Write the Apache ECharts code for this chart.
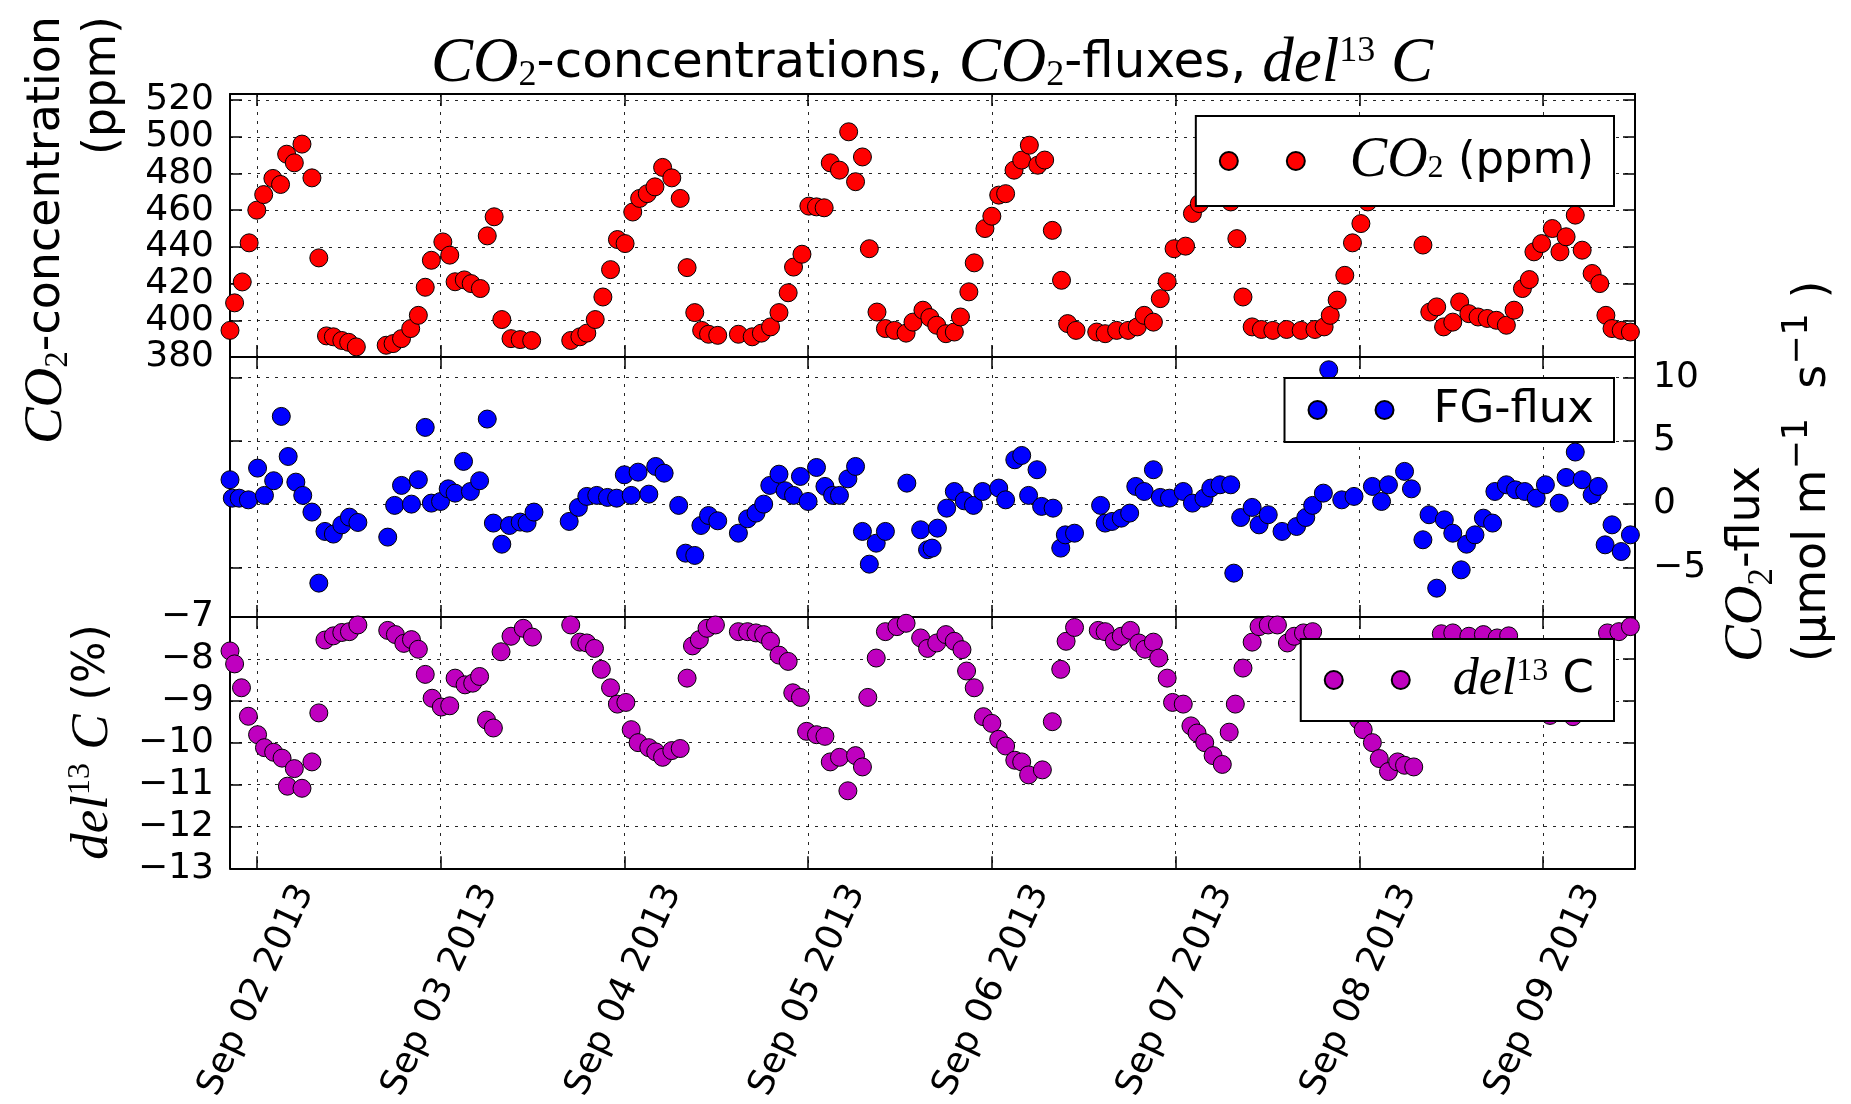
<!DOCTYPE html>
<html><head><meta charset="utf-8">
<script src="https://cdn.jsdelivr.net/npm/echarts@6/dist/echarts.min.js"></script>
<style>html,body{margin:0;padding:0;background:#fff}#c{width:1851px;height:1104px}</style>
</head><body><div id="c"></div>
<script>
// ---- data (hours after 2013-09-02 00:00) ----
const co2Hours = [-3.5,-2.9,-1.9,-1.0,0,0.9,2.1,3.1,3.9,4.9,5.9,7.2,8.1,9.1,10,11.1,12,13,16.9,17.8,18.9,20.1,21.1,22,22.8,24.3,25.2,25.9,27.1,28,29.2,30.1,31,32,33.2,34.4,35.9,41,42.2,43.1,44.2,45.2,46.2,47.1,48.1,49.1,50,51,52,53,54.2,55.3,56.2,57.2,58.1,59,60.2,62.9,64.7,65.9,67.1,68.2,69.4,70.1,71.2,72.1,73.1,74.1,74.9,76.1,77.3,78.2,79.1,80,81,82.1,83.3,84.8,85.7,87,87.9,88.8,90,91.1,91.9,93,93.7,95.1,96,96.9,97.8,98.9,99.9,100.9,102,102.9,103.9,105.1,105.9,107,109.7,110.8,112.3,113.8,115,115.9,117.1,118,118.9,119.8,121.3,122.2,123.1,127.2,128,128.8,130,131.2,132.7,134.5,136.4,138.2,139.4,140.2,141.1,142.1,143.1,144.2,145.1,152.3,153.2,154.1,155,156.2,157.1,158.3,159.5,160.7,161.9,163.2,164.2,165.3,166.2,166.8,167.8,169.2,170.2,171,172.2,173.1,174.4,175.4,176.2,177,178.2,179.4];
const co2Ppm = [394.5,409.5,420.9,442.2,460,468.5,477.3,474,490.5,485.8,496,477.6,434,391.5,391,389,388,385.5,386.4,387.3,390,395.5,402.7,418,432.7,442.7,435.5,421,422,420,417.3,446,456.4,400.4,390,389.5,389,389,391,393,400.4,412.7,427.6,444,441.8,459,466.4,469,472.7,483.3,477.6,466.4,428.7,404.2,394.5,392.4,391.8,392.4,391,393,396.4,404.2,415,429,436,462.2,461.8,461.3,485.8,481.8,502.7,475.5,489,439,404.5,395.5,394.5,393,399,405.5,401.5,397.3,392.7,393.6,401.8,415.5,431.3,450,456.7,468.2,469,481.8,487.3,495.4,484.5,487.3,449,421.8,398.2,394.5,393.6,392.7,394.5,394.5,396.4,402.7,399,411.8,421,439,440.4,458.2,463.6,464.5,444.5,412.7,396.4,395,394.5,395,394.5,395,396.4,402.7,411,424.5,442.2,452.7,464.5,441,404.5,407.3,396.4,399,410,403.6,401.8,401,400,397.3,405.5,417.3,422.2,437.3,441.8,450,437.3,445.5,457.3,438.2,425.5,420,402.7,395.5,394.5,393.6];

const fluxHours = [-3.5,-3.2,-2.3,-1.1,0.1,1,2.2,3.2,4.1,5.1,6,7.2,8.1,8.9,10,11.1,12.1,13.2,17.1,18,18.9,20.2,21.1,22,22.8,24,25,25.9,27,27.9,29.1,30.1,30.9,32,33,34.4,35.3,36.2,40.8,42,43.1,44.4,45.8,47,48,48.9,49.8,51.2,52.1,53.2,55.1,56,57.2,58,59,60.2,62.9,64.1,65.2,66.2,67,68.2,69,70.1,71,72,73.1,74.2,75.2,76.1,77.2,78.2,79.1,80,80.9,82.1,84.9,86.7,87.6,88.2,88.9,90.1,91.1,92.4,93.6,94.8,96.9,97.8,99,99.9,100.8,101.9,102.5,104,105,105.6,106.8,110.2,110.8,111.7,112.9,114,114.8,115.9,117.1,118,119.2,121,122.2,123.7,124.6,125.8,127.2,127.6,128.5,130,130.9,132.1,133.9,135.8,137,137.9,139.3,140,141.7,143.3,145.7,146.9,147.8,149.9,150.8,152.3,153.1,154.1,155.1,156.2,157.3,158,159.1,160.2,161.4,161.7,163.2,164.4,165.6,167.1,168.3,170.1,171,172.2,173.1,174.4,175.2,176.1,177,178.2,179.4];
const fluxValues = [1.93,0.47,0.47,0.34,2.85,0.69,1.85,6.94,3.77,1.74,0.69,-0.63,-6.25,-2.16,-2.37,-1.64,-1.03,-1.45,-2.61,-0.1,1.48,0,1.93,6.07,0.08,0.21,1.21,0.87,3.38,1.0,1.85,6.73,-1.5,-3.17,-1.69,-1.42,-1.5,-0.63,-1.37,-0.26,0.61,0.69,0.53,0.47,2.32,0.69,2.53,0.79,2.98,2.45,-0.1,-3.88,-4.06,-1.69,-0.9,-1.32,-2.3,-1.16,-0.71,0,1.48,2.37,1.06,0.69,2.19,0.21,2.9,1.4,0.69,0.69,2.0,2.98,-2.16,-4.75,-3.09,-2.16,1.66,-2.03,-3.61,-3.48,-1.9,-0.32,1.0,0.26,-0.1,1.0,1.27,0.34,3.51,3.85,0.69,2.72,-0.18,-0.32,-3.48,-2.43,-2.3,-0.1,-1.5,-1.37,-1.11,-0.71,1.4,1.0,2.72,0.53,0.47,1.0,0.08,0.47,1.27,1.53,1.53,-5.46,-1.06,-0.26,-1.64,-0.84,-2.16,-1.77,-1.06,-0.1,0.87,10.63,0.34,0.61,1.4,0.21,1.53,2.59,1.21,-2.82,-0.84,-6.65,-1.24,-2.3,-5.2,-3.17,-2.43,-1.11,-1.5,1.0,1.53,1.13,1.0,0.47,1.53,0.08,2.11,4.12,1.93,0.74,1.4,-3.22,-1.64,-3.75,-2.43];

const delHours = [-3.5,-2.9,-2,-1.1,0.1,1,2.2,3.3,4,4.9,5.9,7.2,8.1,8.9,10,11.1,12.1,13.2,17.1,18.1,19.2,20.2,21.1,22,22.9,24.1,25.2,25.9,27.2,28.2,29.1,30,30.9,31.9,33.2,34.8,36,41,42.2,43.1,44.1,45,46.2,47.1,48.2,48.9,49.8,51.2,52.1,53,54.2,55.3,56.2,56.9,57.8,58.8,59.9,62.9,64.1,65.2,66.2,67.1,68.2,69.4,70,71,71.8,73.1,74.2,74.9,76.1,77.2,78.2,79.1,79.8,80.9,82.1,83.6,84.8,86.7,87.6,88.8,90,91.1,92.1,92.7,93.7,94.9,96,96.9,97.8,99,99.9,100.8,102.6,103.9,105,105.7,106.8,109.9,110.8,112,112.9,114.1,115.2,116,117.1,117.8,118.9,119.6,121,122,122.8,123.8,124.9,126.1,127,127.8,128.8,130,130.9,132.1,133.3,134.6,135.5,136.7,137.9,143.9,144.5,145.7,146.6,147.8,149,149.9,151.1,154.7,156.2,158.3,160.2,162,163.5,168.9,171.9,176.4,177.9,179.4];
const delValues = [-7.81,-8.12,-8.69,-9.37,-9.81,-10.12,-10.23,-10.37,-11.04,-10.62,-11.09,-10.46,-9.29,-7.55,-7.45,-7.37,-7.35,-7.19,-7.32,-7.42,-7.63,-7.54,-7.77,-8.37,-8.94,-9.15,-9.12,-8.46,-8.62,-8.58,-8.42,-9.46,-9.65,-7.83,-7.46,-7.27,-7.48,-7.19,-7.6,-7.62,-7.75,-8.25,-8.69,-9.08,-9.04,-9.69,-10,-10.12,-10.22,-10.35,-10.19,-10.14,-8.46,-7.69,-7.54,-7.27,-7.19,-7.35,-7.35,-7.38,-7.42,-7.58,-7.91,-8.06,-8.81,-8.92,-9.73,-9.81,-9.85,-10.46,-10.35,-11.15,-10.31,-10.58,-8.92,-7.98,-7.35,-7.23,-7.15,-7.5,-7.75,-7.62,-7.42,-7.58,-7.78,-8.29,-8.69,-9.38,-9.54,-9.92,-10.08,-10.42,-10.46,-10.77,-10.65,-9.5,-8.25,-7.58,-7.25,-7.32,-7.35,-7.58,-7.46,-7.32,-7.62,-7.77,-7.6,-7.98,-8.46,-9.04,-9.08,-9.6,-9.77,-10,-10.31,-10.52,-9.75,-9.08,-8.22,-7.6,-7.23,-7.19,-7.19,-7.62,-7.46,-7.38,-7.35,-9.46,-9.69,-10,-10.38,-10.69,-10.46,-10.54,-10.58,-7.4,-7.38,-7.46,-7.42,-7.5,-7.45,-9.35,-9.38,-7.38,-7.35,-7.23];

const dayTicks = [0,24,48,72,96,120,144,168];
const dayLabels = ['Sep 02 2013','Sep 03 2013','Sep 04 2013','Sep 05 2013','Sep 06 2013','Sep 07 2013','Sep 08 2013','Sep 09 2013'];
const co2Ticks = [380,400,420,440,460,480,500,520];
const fluxTicks = [-5,0,5,10];
const delTicks = [-13,-12,-11,-10,-9,-8,-7];

// ---- layout / style ----
const FONT = 'DejaVu Sans', SERIF = 'Liberation Serif';
const L = 230, R = 1851 - 1635;
const tops = [94, 357, 617], heights = [263, 260, 260];
const yRanges = [[380, 523.3], [-8.93, 11.64], [-13, -7]];
const yTickSets = [co2Ticks, fluxTicks, delTicks];
const X_MIN = -3.5, X_MAX = 180;
const fmtNum = v => (v < 0 ? '\u2212' + (-v) : '' + v);

function rich(base, lh, mf, sf) {
  mf = mf || 1.2; sf = sf || 0.72;
  return {
    m:   {fontFamily: SERIF, fontStyle: 'italic', fontSize: Math.round(base * mf), lineHeight: lh, color: '#000'},
    sub: {fontFamily: SERIF, fontSize: Math.round(base * sf), lineHeight: Math.round(base * sf), verticalAlign: 'bottom', color: '#000'},
    sup: {fontFamily: SERIF, fontSize: Math.round(base * sf), lineHeight: Math.round(base * sf), verticalAlign: 'top', color: '#000'},
    sps: {fontFamily: FONT, fontSize: Math.round(base * sf), lineHeight: Math.round(base * sf), verticalAlign: 'top', color: '#000'}
  };
}

const grid = tops.map((t, i) => ({left: L, right: R, top: t, height: heights[i], show: false}));
const axLine = {show: true, onZero: false, lineStyle: {color: '#000', width: 2}};
const split = {show: true, lineStyle: {color: '#000', width: 1, type: [3, 6], opacity: 0.85}};

const xAxis = [], yAxis = [];
for (let i = 0; i < 3; i++) {
  xAxis.push({
    type: 'value', gridIndex: i, min: X_MIN, max: X_MAX, position: 'bottom',
    axisLine: axLine,
    axisTick: {show: true, inside: true, length: 12, customValues: dayTicks, lineStyle: {color: '#000', width: 1.5}},
    axisLabel: {show: i === 2, customValues: dayTicks, rotate: 65, align: 'center', verticalAlign: 'middle', margin: 122,
      fontFamily: FONT, fontSize: 36, color: '#000',
      formatter: v => dayLabels[dayTicks.indexOf(Math.round(v))] || ''},
    splitLine: split
  });
  xAxis.push({
    type: 'value', gridIndex: i, min: X_MIN, max: X_MAX, position: 'top',
    axisLine: axLine,
    axisTick: {show: true, inside: true, length: 12, customValues: dayTicks, lineStyle: {color: '#000', width: 1.5}},
    axisLabel: {show: false}, splitLine: {show: false}
  });
  const ticks = yTickSets[i];
  yAxis.push({
    type: 'value', gridIndex: i, min: yRanges[i][0], max: yRanges[i][1], position: 'left',
    axisLine: axLine,
    axisTick: {show: true, inside: true, length: 12, customValues: ticks, lineStyle: {color: '#000', width: 1.5}},
    axisLabel: {show: i !== 1, customValues: ticks, margin: 16, fontFamily: FONT, fontSize: 36, color: '#000', formatter: fmtNum},
    splitLine: split
  });
  yAxis.push({
    type: 'value', gridIndex: i, min: yRanges[i][0], max: yRanges[i][1], position: 'right',
    axisLine: axLine,
    axisTick: {show: true, inside: true, length: 12, customValues: ticks, lineStyle: {color: '#000', width: 1.5}},
    axisLabel: {show: i === 1, customValues: ticks, margin: 18, fontFamily: FONT, fontSize: 36, color: '#000', formatter: fmtNum},
    splitLine: {show: false}
  });
}

function pairs(xs, ys) { return xs.map((x, k) => [x, ys[k]]); }
const mk = (name, gi, data, color) => ({
  type: 'scatter', name, xAxisIndex: gi * 2, yAxisIndex: gi * 2, data,
  symbol: 'circle', symbolSize: 18, clip: false,
  itemStyle: {color, borderColor: '#000', borderWidth: 1, opacity: 1},
  emphasis: {disabled: true}, silent: true
});

const twoDots = 'path://M9,0A9,9,0,1,1,9,18A9,9,0,1,1,9,0ZM76,0A9,9,0,1,1,76,18A9,9,0,1,1,76,0Z';
const legBase = (name, top, padTB, textPad, fmt, mf) => ({
  data: [name], right: 1851 - 1614, top, orient: 'horizontal', selectedMode: false,
  backgroundColor: '#fff', borderColor: '#000', borderWidth: 2, borderRadius: 0,
  padding: [padTB, 20, padTB, 23], itemWidth: 85, itemHeight: 18, icon: twoDots,
  formatter: fmt,
  textStyle: {fontFamily: FONT, fontSize: 45, color: '#000', lineHeight: 48, padding: [0, 0, 0, textPad], rich: rich(45, 48, mf)}
});

const option = {
  animation: false,
  backgroundColor: '#fff',
  grid, xAxis, yAxis,
  legend: [
    legBase('CO2 (ppm)', 116, 17, 40, () => '{m|CO}{sub|2} (ppm)', 1.25),
    legBase('FG-flux', 378, 8, 35, () => 'FG-flux', 1.2),
    legBase('del13C', 639, 15, 38, () => '{m|del}{sup|13} C', 1.15)
  ],
  series: [
    mk('CO2 (ppm)', 0, pairs(co2Hours, co2Ppm), '#ff0000'),
    mk('FG-flux', 1, pairs(fluxHours, fluxValues), '#0000ff'),
    mk('del13C', 2, pairs(delHours, delValues), '#bf00bf')
  ],
  graphic: [
    {type: 'text', x: 932, y: 64, silent: true, style: {
      text: '{m|CO}{sub|2}-concentrations, {m|CO}{sub|2}-fluxes, {m|del}{sup|13}{m| C}',
      fontFamily: FONT, fontSize: 50, lineHeight: 60, fill: '#000', align: 'center', verticalAlign: 'middle', rich: rich(50, 60, 1.25)}},
    {type: 'text', x: 75, y: 16, rotation: Math.PI / 2, silent: true, style: {
      text: '{m|CO}{sub|2}-concentration\n(ppm)',
      fontFamily: FONT, fontSize: 46, lineHeight: 56, fill: '#000', align: 'right', verticalAlign: 'middle', rich: rich(46, 56, 1.2)}},
    {type: 'text', x: 93, y: 742, rotation: Math.PI / 2, silent: true, style: {
      text: '{m|del}{sup|13}{m| C} (%)',
      fontFamily: FONT, fontSize: 44, lineHeight: 56, fill: '#000', align: 'center', verticalAlign: 'middle', rich: rich(44, 56, 1.2)}},
    {type: 'text', x: 1780, y: 662, rotation: Math.PI / 2, silent: true, style: {
      text: '{m|CO}{sub|2}-flux\n(\u03bcmol m{sps|\u22121}  s{sps|\u22121} )',
      fontFamily: FONT, fontSize: 46, lineHeight: 66, fill: '#000', align: 'left', verticalAlign: 'middle', rich: rich(46, 66, 1.2, 0.75)}}
  ]
};

const chart = echarts.init(document.getElementById('c'), null, {renderer: 'canvas'});
chart.setOption(option);
</script>
</body></html>
